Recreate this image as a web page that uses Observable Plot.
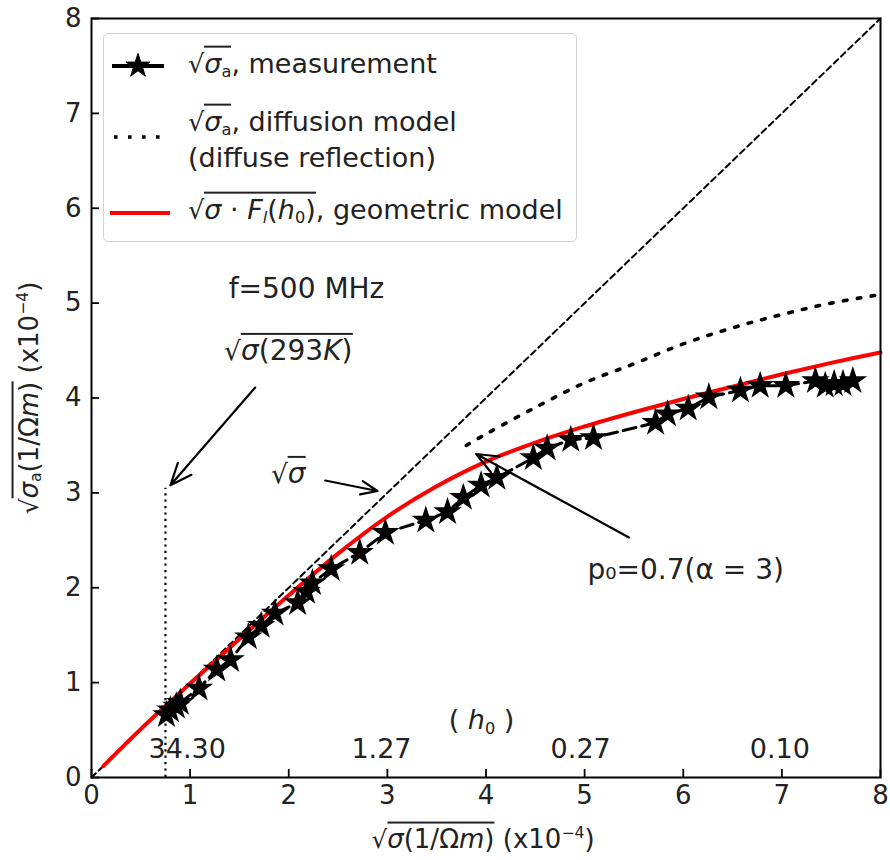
<!DOCTYPE html>
<html><head><meta charset="utf-8">
<script src="https://cdn.jsdelivr.net/npm/d3@7"></script>
<script src="https://cdn.jsdelivr.net/npm/@observablehq/plot@0.6"></script>
<style>
body{margin:0;background:#fff;font-family:"DejaVu Sans",sans-serif;}
#wrap{position:relative;width:890px;height:860px;overflow:hidden;}
.ov{position:absolute;white-space:nowrap;color:#222;font-size:26px;line-height:1.15;}
.rad{display:inline-block;border-top:2px solid #222;padding-top:2px;line-height:1;}
.sq{font-size:0.95em;}
.it{font-style:italic;}
sub{font-size:0.6em;vertical-align:-0.25em;line-height:0;}
sup{font-size:0.6em;vertical-align:0.6em;line-height:0;}
#legend{position:absolute;left:103px;top:33px;width:474px;height:209px;border:1.5px solid #d4d4d4;border-radius:5px;background:rgba(255,255,255,0.85);box-sizing:border-box;}
#legend .lt{position:absolute;left:84px;transform:translateY(-50%);white-space:nowrap;color:#222;font-size:27px;line-height:1.1;}
</style></head>
<body><div id="wrap"></div>
<script>
// ---- data ----
const xTicks = [0,1,2,3,4,5,6,7,8];
const yTicks = [0,1,2,3,4,5,6,7,8];
const refX = [0, 8];
const refY = [0, 8];
const measX = [0.76,0.80,0.86,0.90,1.09,1.27,1.41,1.59,1.72,1.86,2.09,2.18,2.24,2.43,2.72,2.98,3.39,3.61,3.77,3.95,4.11,4.48,4.62,4.86,5.09,5.72,5.84,6.05,6.26,6.58,6.78,7.04,7.34,7.44,7.53,7.62,7.72];
const measY = [0.66,0.71,0.75,0.79,0.94,1.14,1.24,1.48,1.60,1.73,1.84,1.96,2.05,2.20,2.37,2.58,2.71,2.80,2.95,3.08,3.16,3.37,3.47,3.56,3.58,3.74,3.83,3.89,4.01,4.08,4.13,4.13,4.18,4.13,4.15,4.15,4.18];
const geomX = [0.12,0.5,1,1.5,2,2.5,3,3.5,4,4.5,5,5.5,6,6.5,7,7.5,8];
const geomY = [0.12,0.51,0.99,1.46,1.92,2.36,2.75,3.07,3.33,3.53,3.70,3.85,3.99,4.12,4.25,4.37,4.48];
const diffX = [3.8,4.0,4.5,5.0,5.5,6.0,6.5,7.0,7.5,8.0];
const diffY = [3.50,3.62,3.90,4.16,4.36,4.57,4.74,4.88,5.00,5.09];
const roomTempX = [0.75];
const roomTempTop = [3.05];
const h0Labels = ["34.30","1.27","0.27","0.10"];
const h0X = [0.97,2.94,4.96,6.98];
const h0Y = [0.30,0.30,0.30,0.30];
const arrowX1 = [1.66,2.37,5.45];
const arrowY1 = [4.11,3.13,2.53];
const arrowX2 = [0.80,2.90,3.90];
const arrowY2 = [3.08,3.02,3.41];

const idx = a => a.map((_, i) => i);
const W = 890, H = 860, mL = 91, mR = 10, mT = 18, mB = 83;
const frameW = W - mL - mR, frameH = H - mT - mB;
const FONT = "DejaVu Sans";

const plot = Plot.plot({
  width: W, height: H,
  marginLeft: mL, marginRight: mR, marginTop: mT, marginBottom: mB,
  x: {domain: [0, 8]},
  y: {domain: [0, 8]},
  style: {fontFamily: FONT, fontSize: "26px", color: "#222", background: "white"},
  marks: [
    Plot.axisX({ticks: xTicks, tickSize: 0, tickPadding: 8, label: null, tickFormat: d => String(d), fontSize: 26}),
    Plot.axisY({ticks: yTicks, tickSize: 0, tickPadding: 10, label: null, tickFormat: d => String(d), fontSize: 26}),
    Plot.ruleX(xTicks, {x: d => d, insetTop: frameH - 8, stroke: "black", strokeWidth: 1.8}),
    Plot.ruleY(yTicks, {y: d => d, insetRight: frameW - 8, stroke: "black", strokeWidth: 1.8}),
    // reference sqrt(sigma) line
    Plot.line(idx(refX), {x: i => refX[i], y: i => refY[i], stroke: "black", strokeWidth: 2, strokeDasharray: "6,4"}),
    // room temperature marker
    Plot.ruleX(idx(roomTempX), {x: i => roomTempX[i], y1: 0, y2: i => roomTempTop[i], stroke: "black", strokeWidth: 2.2, strokeDasharray: "2.2,4.2"}),
    // diffusion model
    Plot.line(idx(diffX), {x: i => diffX[i], y: i => diffY[i], stroke: "black", strokeWidth: 3.6, strokeDasharray: "3.6,10.4", curve: "catmull-rom"}),
    // geometric model
    Plot.line(idx(geomX), {x: i => geomX[i], y: i => geomY[i], stroke: "#ff0000", strokeWidth: 4, curve: "catmull-rom"}),
    // measurement
    Plot.line(idx(measX), {x: i => measX[i], y: i => measY[i], stroke: "black", strokeWidth: 3, strokeDasharray: "13,6"}),
    Plot.dot(idx(measX), {x: i => measX[i], y: i => measY[i], symbol: "star", fill: "black", stroke: "black", strokeWidth: 1.5, r: 7.5}),
    // arrows
    Plot.arrow(idx(arrowX1), {x1: i => arrowX1[i], y1: i => arrowY1[i], x2: i => arrowX2[i], y2: i => arrowY2[i], stroke: "black", strokeWidth: 2.2, headLength: 16, headAngle: 45}),
    // texts
    Plot.text(["f=500 MHz"], {x: 2.18, y: 5.15, text: d => d, fontSize: 28, fill: "#222"}),
    Plot.text(["p₀=0.7(α = 3)"], {x: 5.03, y: 2.19, text: d => d, textAnchor: "start", fontSize: 28, fill: "#222"}),
    Plot.text(idx(h0Labels), {x: i => h0X[i], y: i => h0Y[i], text: i => h0Labels[i], fontSize: 27, fill: "#222"}),
    Plot.frame({stroke: "black", strokeWidth: 2})
  ]
});
const wrap = document.getElementById("wrap");
wrap.appendChild(plot);
const sx = plot.scale("x"), sy = plot.scale("y");

function overlay(html, px, py, extraStyle) {
  const d = document.createElement("div");
  d.className = "ov";
  d.innerHTML = html;
  d.style.left = px + "px";
  d.style.top = py + "px";
  d.style.transform = "translate(-50%,-50%)";
  if (extraStyle) Object.assign(d.style, extraStyle);
  wrap.appendChild(d);
  return d;
}
const S = '<span class="it">σ</span>';
const rad = inner => `<span class="sq">√</span><span class="rad">${inner}</span>`;

overlay(rad(S + "(293<span class='it'>K</span>)"), sx.apply(2.0), sy.apply(4.50), {fontSize: "28px"});
overlay(rad(S), sx.apply(2.0), sy.apply(3.20), {fontSize: "28px"});
overlay("(&nbsp;<span class='it'>h</span><sub>0</sub>&nbsp;)", sx.apply(3.96), sy.apply(0.60), {fontSize: "27px"});

// axis titles
overlay(rad(S + "(1/Ω<span class='it'>m</span>)") + " (x10<sup>−4</sup>)", 483, 838);
overlay(rad(S + "<sub>a</sub>(1/Ω<span class='it'>m</span>)") + " (x10<sup>−4</sup>)", 28, 398, {transform: "translate(-50%,-50%) rotate(-90deg)"});

// legend
const lg = document.createElement("div");
lg.id = "legend";
const star = d3.symbol(d3.symbolStar, Math.PI * 7.5 * 7.5)();
lg.innerHTML = `
<svg style="position:absolute;left:0;top:0" width="474" height="209">
  <line x1="8" y1="32" x2="60" y2="32" stroke="black" stroke-width="4"/>
  <path d="${star}" transform="translate(34,32)" fill="black" stroke="black"/>
  <line x1="10" y1="103" x2="62" y2="103" stroke="black" stroke-width="3.6" stroke-dasharray="3.6,10.4"/>
  <line x1="6" y1="179" x2="66" y2="179" stroke="#ff0000" stroke-width="4"/>
</svg>
<div class="lt" style="top:28px">${rad(S + "<sub>a</sub>")}, measurement</div>
<div class="lt" style="top:86px">${rad(S + "<sub>a</sub>")}, diffusion model</div>
<div class="lt" style="top:124px">(diffuse reflection)</div>
<div class="lt" style="top:174px">${rad(S + " · <span class='it'>F</span><sub class='it'>l</sub>(<span class='it'>h</span><sub>0</sub>)")}, geometric model</div>`;
wrap.appendChild(lg);
</script></body></html>
